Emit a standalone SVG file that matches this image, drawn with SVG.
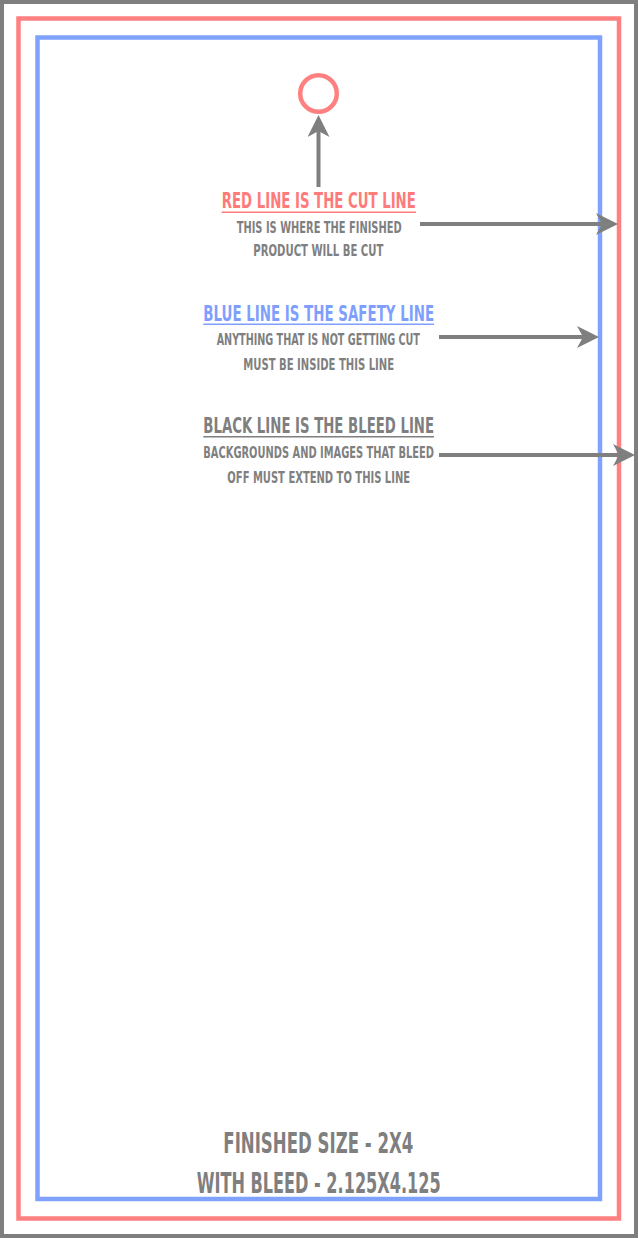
<svg xmlns="http://www.w3.org/2000/svg" width="638" height="1238" viewBox="0 0 638 1238">
<style>
.t{font-family:"Liberation Sans Narrow","DejaVu Sans Condensed","Liberation Sans",sans-serif;font-weight:bold;text-anchor:middle}
.h{font-size:21.5px}
.s{font-size:16px;fill:#7f7f7f}
.b{font-size:29px;fill:#7f7f7f}
.conn{stroke:#7f7f7f;stroke-width:4;fill:none}
</style>
<defs>
<marker id="ah" markerUnits="userSpaceOnUse" markerWidth="24" markerHeight="24" refX="10" refY="11" orient="auto">
<path d="M0,0 L22,11 L0,22 L6,11 z" fill="#7f7f7f"/>
</marker>
</defs>
<rect width="638" height="1238" fill="#fff"/>
<g id="bleed-line"><rect x="2" y="2" width="634" height="1234" fill="none" stroke="#7f7f7f" stroke-width="4"/></g>
<g id="cut-line"><rect x="18.5" y="18.5" width="600.5" height="1200" fill="none" stroke="#ff8080" stroke-width="4.5"/></g>
<g id="safety-line"><rect x="37.5" y="37.5" width="562.5" height="1161.5" fill="none" stroke="#80a2ff" stroke-width="4.5"/></g>
<g id="circle"><circle cx="318.5" cy="93.5" r="18.3" fill="none" stroke="#ff8080" stroke-width="4.5"/></g>
<g id="connectors">
<line class="conn" x1="318.5" y1="187" x2="318.5" y2="127" marker-end="url(#ah)"/>
<line class="conn" x1="420" y1="224" x2="606" y2="224" marker-end="url(#ah)"/>
<line class="conn" x1="439" y1="337" x2="587" y2="337" marker-end="url(#ah)"/>
<line class="conn" x1="439" y1="455" x2="623" y2="455" marker-end="url(#ah)"/>
</g>
<g id="red-note">
<text class="t h" x="318.8" y="208.3" fill="#ff7a7a" textLength="194" lengthAdjust="spacingAndGlyphs">RED LINE IS THE CUT LINE</text>
<line x1="221.7" y1="212.3" x2="416" y2="212.3" stroke="#ff7a7a" stroke-width="1.5"/>
<text class="t s" x="319.2" y="232.7" textLength="165" lengthAdjust="spacingAndGlyphs">THIS IS WHERE THE FINISHED</text>
<text class="t s" x="318.3" y="256" textLength="130" lengthAdjust="spacingAndGlyphs">PRODUCT WILL BE CUT</text>
</g>
<g id="blue-note">
<text class="t h" x="318.7" y="320.7" fill="#7f9fff" textLength="230.7" lengthAdjust="spacingAndGlyphs">BLUE LINE IS THE SAFETY LINE</text>
<line x1="203.3" y1="324.3" x2="434" y2="324.3" stroke="#7f9fff" stroke-width="1.5"/>
<text class="t s" x="318.3" y="345" textLength="203.3" lengthAdjust="spacingAndGlyphs">ANYTHING THAT IS NOT GETTING CUT</text>
<text class="t s" x="318.7" y="370" textLength="150.7" lengthAdjust="spacingAndGlyphs">MUST BE INSIDE THIS LINE</text>
</g>
<g id="black-note">
<text class="t h" x="318.7" y="432.7" fill="#7f7f7f" textLength="230.7" lengthAdjust="spacingAndGlyphs">BLACK LINE IS THE BLEED LINE</text>
<line x1="203.3" y1="436.7" x2="434" y2="436.7" stroke="#7f7f7f" stroke-width="1.5"/>
<text class="t s" x="318.7" y="458.3" textLength="230.7" lengthAdjust="spacingAndGlyphs">BACKGROUNDS AND IMAGES THAT BLEED</text>
<text class="t s" x="318.7" y="482.7" textLength="182.7" lengthAdjust="spacingAndGlyphs">OFF MUST EXTEND TO THIS LINE</text>
</g>
<g id="size-note">
<text class="t b" x="318.3" y="1152.7" textLength="190" lengthAdjust="spacingAndGlyphs">FINISHED SIZE - 2X4</text>
<text class="t b" x="318.7" y="1192.7" textLength="244" lengthAdjust="spacingAndGlyphs">WITH BLEED - 2.125X4.125</text>
</g>
</svg>
